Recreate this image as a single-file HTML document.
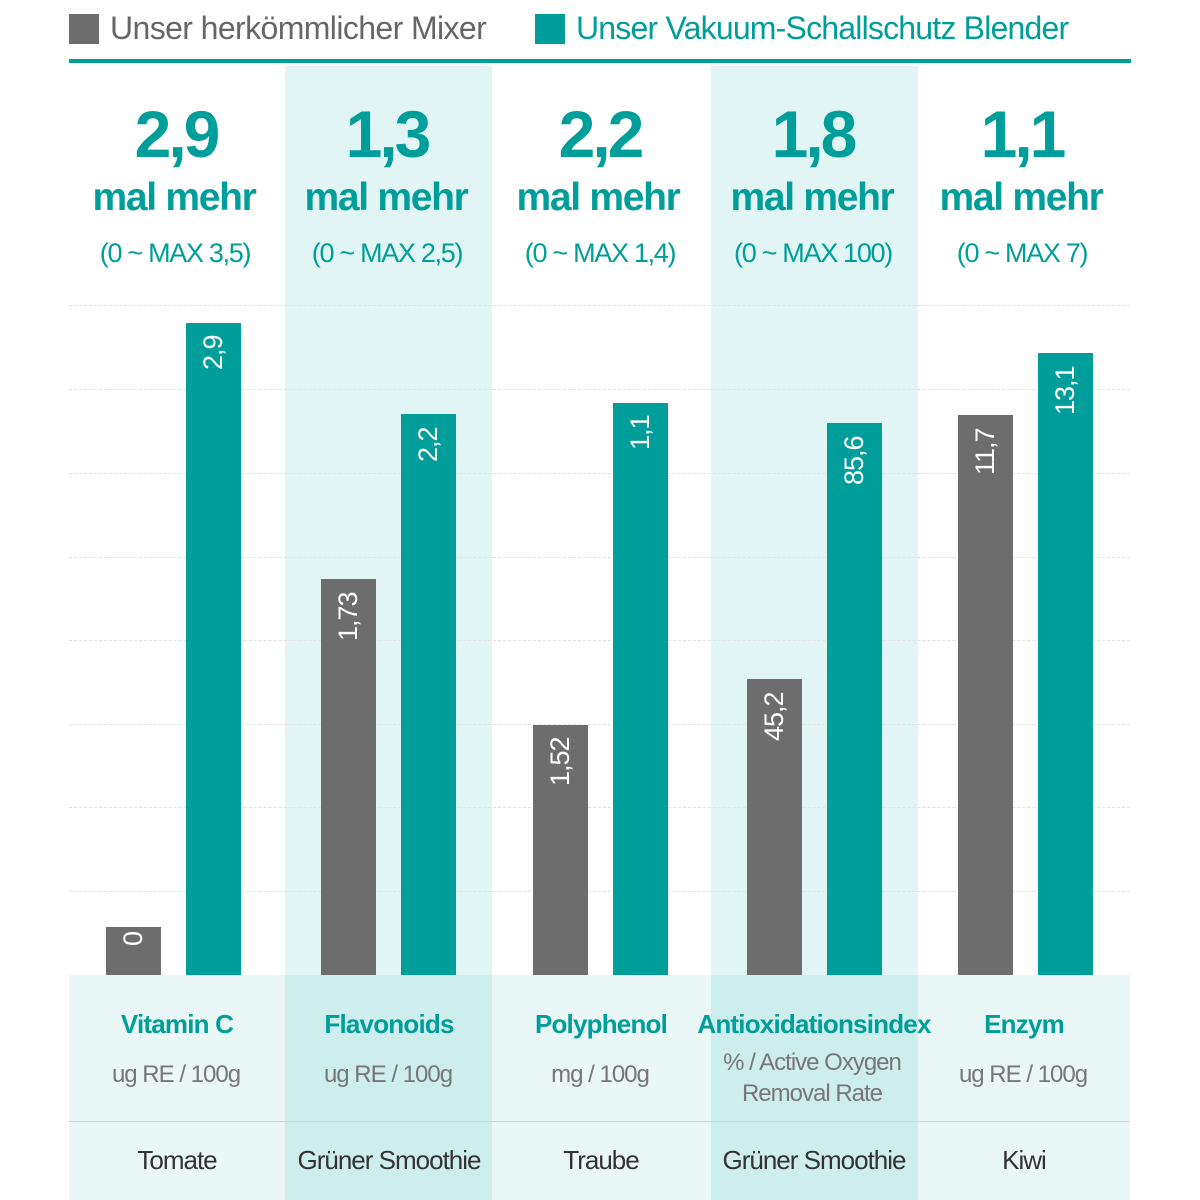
<!DOCTYPE html>
<html><head><meta charset="utf-8"><style>
*{margin:0;padding:0;box-sizing:border-box}
body{width:1200px;height:1200px;background:#fff;position:relative;overflow:hidden;font-family:"Liberation Sans",sans-serif}
.a{position:absolute}
.t{position:absolute;text-align:center;white-space:nowrap;transform:translateX(-50%)}
.grid{position:absolute;left:69px;width:1061px;border-top:1px dashed #e2e2e2}
.bar{position:absolute;width:55px}
.g{background:#6d6d6d}.c{background:#009e9a}
.lab{position:absolute;color:#fff;font-size:27px;writing-mode:vertical-rl;transform:rotate(180deg);letter-spacing:-1px;line-height:55px;width:55px;text-align:right}
.big{color:#009e9a;font-weight:bold;font-size:66px;letter-spacing:-3px}
.mm{color:#009e9a;font-weight:bold;font-size:39px;letter-spacing:-1.3px}
.mx{color:#009e9a;font-size:27px;letter-spacing:-1.3px}
.cat{color:#009e9a;font-weight:bold;font-size:26px;letter-spacing:-0.8px}
.un{color:#777;font-size:24px;letter-spacing:-1px}
.sm{color:#333;font-size:26px;letter-spacing:-1px}
</style></head><body>
<div class="a" style="left:69px;top:14px;width:30px;height:30px;background:#6d6d6d"></div>
<div class="a" style="left:110px;top:10px;font-size:32px;color:#666;letter-spacing:-0.6px">Unser herkömmlicher Mixer</div>
<div class="a" style="left:535px;top:14px;width:30px;height:30px;background:#009e9a"></div>
<div class="a" style="left:576px;top:10px;font-size:32px;color:#009e9a;letter-spacing:-0.8px">Unser Vakuum-Schallschutz Blender</div>
<div class="a" style="left:69px;top:59px;width:1062px;height:4px;background:#009e9a"></div>

<div class="a" style="left:285px;top:66px;width:207px;height:909px;background:#e0f5f4"></div>
<div class="a" style="left:711px;top:66px;width:207px;height:909px;background:#e0f5f4"></div>

<div class="grid" style="top:305px"></div><div class="grid" style="top:389px"></div><div class="grid" style="top:473px"></div><div class="grid" style="top:557px"></div><div class="grid" style="top:640px"></div><div class="grid" style="top:724px"></div><div class="grid" style="top:807px"></div><div class="grid" style="top:891px"></div>

<div class="t big" style="left:176px;top:96px">2,9</div>
<div class="t big" style="left:387px;top:96px">1,3</div>
<div class="t big" style="left:600px;top:96px">2,2</div>
<div class="t big" style="left:813px;top:96px">1,8</div>
<div class="t big" style="left:1022px;top:96px">1,1</div>
<div class="t mm" style="left:174px;top:176px">mal mehr</div>
<div class="t mm" style="left:386px;top:176px">mal mehr</div>
<div class="t mm" style="left:598px;top:176px">mal mehr</div>
<div class="t mm" style="left:812px;top:176px">mal mehr</div>
<div class="t mm" style="left:1021px;top:176px">mal mehr</div>
<div class="t mx" style="left:175px;top:238px">(0 ~ MAX 3,5)</div>
<div class="t mx" style="left:387px;top:238px">(0 ~ MAX 2,5)</div>
<div class="t mx" style="left:600px;top:238px">(0 ~ MAX 1,4)</div>
<div class="t mx" style="left:813px;top:238px">(0 ~ MAX 100)</div>
<div class="t mx" style="left:1022px;top:238px">(0 ~ MAX 7)</div>

<div class="bar g" style="left:106px;top:927px;height:48px"></div>
<div class="bar c" style="left:186px;top:323px;height:652px"></div>
<div class="bar g" style="left:321px;top:579px;height:396px"></div>
<div class="bar c" style="left:401px;top:414px;height:561px"></div>
<div class="bar g" style="left:533px;top:725px;height:250px"></div>
<div class="bar c" style="left:613px;top:403px;height:572px"></div>
<div class="bar g" style="left:747px;top:679px;height:296px"></div>
<div class="bar c" style="left:827px;top:423px;height:552px"></div>
<div class="bar g" style="left:958px;top:415px;height:560px"></div>
<div class="bar c" style="left:1038px;top:353px;height:622px"></div>

<div class="lab" style="left:106px;top:932px;height:40px">0</div>
<div class="lab" style="left:186px;top:335px;height:50px">2,9</div>
<div class="lab" style="left:321px;top:592px;height:60px">1,73</div>
<div class="lab" style="left:401px;top:427px;height:50px">2,2</div>
<div class="lab" style="left:533px;top:737px;height:60px">1,52</div>
<div class="lab" style="left:613px;top:415px;height:50px">1,1</div>
<div class="lab" style="left:747px;top:692px;height:60px">45,2</div>
<div class="lab" style="left:827px;top:436px;height:60px">85,6</div>
<div class="lab" style="left:958px;top:428px;height:50px">11,7</div>
<div class="lab" style="left:1038px;top:366px;height:50px">13,1</div>

<div class="a" style="left:69px;top:975px;width:1061px;height:225px;background:#e9f7f6"></div>
<div class="a" style="left:285px;top:975px;width:207px;height:225px;background:#cdeeed"></div>
<div class="a" style="left:711px;top:975px;width:207px;height:225px;background:#cdeeed"></div>
<div class="a" style="left:69px;top:1121px;width:1061px;height:1px;background:#c9d9d8"></div>

<div class="t cat" style="left:177px;top:1009px">Vitamin C</div>
<div class="t cat" style="left:389px;top:1009px">Flavonoids</div>
<div class="t cat" style="left:601px;top:1009px">Polyphenol</div>
<div class="t cat" style="left:814px;top:1009px">Antioxidationsindex</div>
<div class="t cat" style="left:1024px;top:1009px">Enzym</div>
<div class="t un" style="left:176px;top:1061px">ug RE / 100g</div>
<div class="t un" style="left:388px;top:1061px">ug RE / 100g</div>
<div class="t un" style="left:600px;top:1061px">mg / 100g</div>
<div class="t un" style="left:812px;top:1047px;line-height:31px">% / Active Oxygen<br>Removal Rate</div>
<div class="t un" style="left:1023px;top:1061px">ug RE / 100g</div>
<div class="t sm" style="left:177px;top:1145px">Tomate</div>
<div class="t sm" style="left:389px;top:1145px">Grüner Smoothie</div>
<div class="t sm" style="left:601px;top:1145px">Traube</div>
<div class="t sm" style="left:814px;top:1145px">Grüner Smoothie</div>
<div class="t sm" style="left:1024px;top:1145px">Kiwi</div>
</body></html>
